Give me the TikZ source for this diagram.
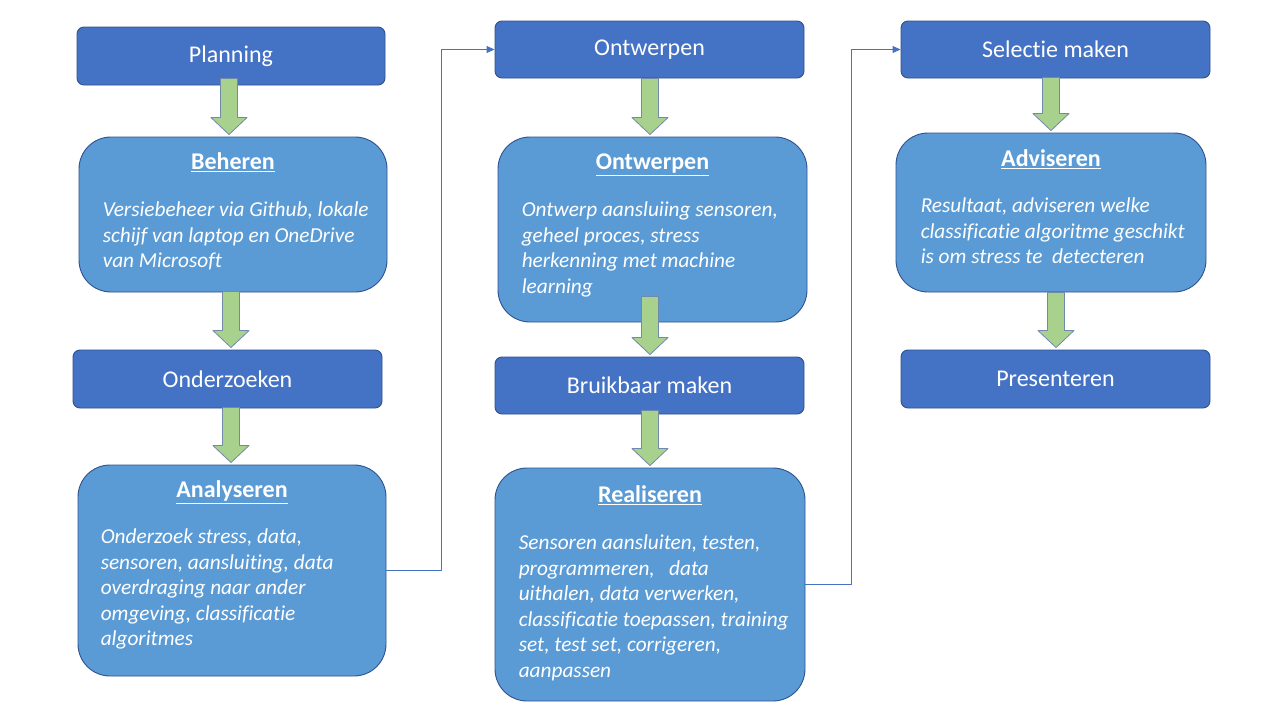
\documentclass[tikz,border=0pt]{standalone}
\usepackage{fontspec}
\setmainfont{Carlito}[Ligatures=NoCommon]
\usetikzlibrary{calc, positioning, arrows.meta}

\definecolor{stepblue}{HTML}{4472C4}
\definecolor{cardblue}{HTML}{5B9BD5}
\definecolor{edgeblue}{HTML}{2F528F}
\definecolor{arrowgreen}{HTML}{A9D18E}
\definecolor{arrowedge}{HTML}{7189AB}

\tikzset{
  % dark header boxes and lighter detail cards
  stepbox/.style={draw=edgeblue, fill=stepblue, line width=0.9pt, rounded corners=7pt,
    text=white, font=\fontsize{24}{29}\selectfont},
  cardbox/.style={draw=edgeblue, fill=cardblue, line width=0.9pt, rounded corners=32pt},
  cardtitle/.style={text=white, anchor=base, inner sep=0pt, font=\fontsize{24}{29}\selectfont\bfseries},
  cardtext/.style={text=white, anchor=north west, inner sep=0pt, align=left,
    font=\fontsize{21.3}{25.6}\selectfont\itshape},
  greenblock/.style={fill=arrowgreen, draw=arrowedge, line width=0.8pt},
  link/.style={draw=stepblue, line width=0.9pt, -{Triangle[length=8pt, width=7pt]}}
}

% block arrow: #1 source, #2 target, #3 x shift, #4 overlap into source
\newcommand{\greenarrow}[4]{%
  \filldraw[greenblock] let \p1=($(#1.south)+(#3,-#4)$), \p2=($(#2.north)+(0,-2)$) in
    (\x1-8.5pt,\y1) -- (\x1-8.5pt,\y2+17pt) -- (\x1-18pt,\y2+17pt) -- (\x1,\y2)
    -- (\x1+18pt,\y2+17pt) -- (\x1+8.5pt,\y2+17pt) -- (\x1+8.5pt,\y1) -- cycle;}

\begin{document}
\begin{tikzpicture}[x=1pt, y=-1pt, line join=round]

    \useasboundingbox[fill=white] (0,0) rectangle (1280,720);

    % column 1
    \node[stepbox, minimum width=308pt, minimum height=58pt] (planning) at (231,56) {Planning};
    \node[cardbox, minimum width=308pt, minimum height=155pt] (beheren) at (233,214.5) {};
    \node[stepbox, minimum width=309pt, minimum height=58pt] (onderzoeken) at (227.5,379) {Onderzoeken};
    \node[cardbox, minimum width=308pt, minimum height=211pt] (analyseren) at (232,570.5) {};

    % column 2
    \node[stepbox, minimum width=309pt, minimum height=57pt] (ontwerpen) at (649.5,49.5) {Ontwerpen};
    \node[cardbox, minimum width=309pt, minimum height=185pt] (ontwerpdetail) at (652.5,229.5) {};
    \node[stepbox, minimum width=309pt, minimum height=57pt] (bruikbaar) at (649.5,385.5) {Bruikbaar maken};
    \node[cardbox, minimum width=310pt, minimum height=233pt] (realiseren) at (650,584.5) {};

    % column 3
    \node[stepbox, minimum width=309pt, minimum height=57pt] (selectie) at (1055.5,49.5) {Selectie maken};
    \node[cardbox, minimum width=310pt, minimum height=159pt] (adviseren) at (1051,212.5) {};
    \node[stepbox, minimum width=309pt, minimum height=58pt] (presenteren) at (1055.5,379) {Presenteren};

    % card titles
    \node[cardtitle] (beheren-title) at ($(beheren.north)+(0,33)$) {\underline{Beheren}};
    \node[cardtitle] (analyseren-title) at ($(analyseren.north)+(0,33)$) {\underline{Analyseren}};
    \node[cardtitle] (ontwerpdetail-title) at ($(ontwerpdetail.north)+(0,33)$) {\underline{Ontwerpen}};
    \node[cardtitle] (realiseren-title) at ($(realiseren.north)+(0,35)$) {\underline{Realiseren}};
    \node[cardtitle] (adviseren-title) at ($(adviseren.north)+(0,34)$) {\underline{Adviseren}};

    % card texts
    \node[cardtext] (beheren-text) at ($(beheren.north west)+(24,65)$)
      {Versiebeheer via Github, lokale\\schijf van laptop en OneDrive\\van Microsoft};
    \node[cardtext] (analyseren-text) at ($(analyseren.north west)+(23,64)$)
      {Onderzoek stress, data,\\sensoren, aansluiting, data\\overdraging naar ander\\omgeving, classificatie\\algoritmes};
    \node[cardtext] (ontwerpdetail-text) at ($(ontwerpdetail.north west)+(24,65)$)
      {Ontwerp aansluiing sensoren,\\geheel proces, stress\\herkenning met machine\\learning};
    \node[cardtext] (realiseren-text) at ($(realiseren.north west)+(24,67)$)
      {Sensoren aansluiten, testen,\\programmeren,\ \ \ data\\uithalen, data verwerken,\\classificatie toepassen, training\\set, test set, corrigeren,\\aanpassen};
    \node[cardtext] (adviseren-text) at ($(adviseren.north west)+(25,65)$)
      {Resultaat, adviseren welke\\classificatie algoritme geschikt\\is om stress te\ \ detecteren};

    % green block arrows down each column
    \greenarrow{planning}{beheren}{-2}{7}
    \greenarrow{beheren}{onderzoeken}{-2}{1}
    \greenarrow{onderzoeken}{analyseren}{3.5}{1}
    \greenarrow{ontwerpen}{ontwerpdetail}{0.5}{0}
    \greenarrow{ontwerpdetail}{bruikbaar}{-2.5}{26}
    \greenarrow{bruikbaar}{realiseren}{0.5}{4}
    \greenarrow{selectie}{adviseren}{-4.5}{1}
    \greenarrow{adviseren}{presenteren}{5}{0}

    % links to the next column
    \draw[link] (analyseren.east) -- ++(55,0) |- (ontwerpen.west);
    \draw[link] (realiseren.east) -- ++(46,0) |- (selectie.west);

\end{tikzpicture}
\end{document}
